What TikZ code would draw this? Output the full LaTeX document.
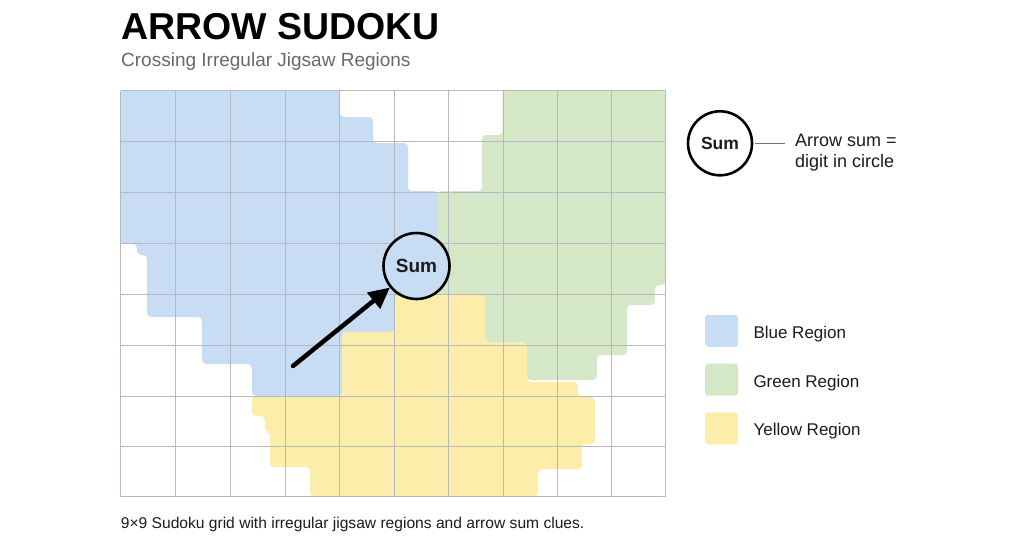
\documentclass[tikz,border=0pt]{standalone}
\usepackage{fontspec}
\setmainfont{Liberation Sans}
\usetikzlibrary{arrows.meta}
\definecolor{blueR}{RGB}{200,220,243}
\definecolor{greenR}{RGB}{212,232,199}
\definecolor{yellowR}{RGB}{252,238,170}
\definecolor{gridc}{RGB}{180,185,191}
\definecolor{subc}{RGB}{105,105,105}
\definecolor{txt}{RGB}{28,28,32}
\tikzset{
  region/.style={rounded corners=4pt},
  gridline/.style={draw=gridc,line width=1.1pt},
  sumcircle/.style={circle,draw=black,line width=2.6pt,minimum size=66pt,inner sep=0pt,
    font=\fontsize{19}{22}\selectfont\bfseries,text=txt},
  legsq/.style={minimum width=33pt,minimum height=32pt,rounded corners=3pt,inner sep=0pt},
  legtxt/.style={anchor=base west,inner sep=0pt,font=\fontsize{17}{20}\selectfont,text=txt},
  arrowline/.style={line width=4.5pt,line cap=round,-{Triangle[length=21pt,width=20pt]}},
}
\begin{document}
\begin{tikzpicture}[x=1pt,y=-1pt]
\useasboundingbox (0,0) rectangle (1024,551);
\fill[white] (0,0) rectangle (1024,551);
% regions
\fill[blueR,region] (120.5,90.5) -- (340,90.5) -- (340,117) -- (373,117) -- (373,143) -- (408,143) -- (408,191) -- (438,191) -- (438,295) -- (395,295) -- (395,332) -- (342,332) -- (342,396) -- (252,396) -- (252,364) -- (202,364) -- (202,317) -- (147,317) -- (147,255) -- (137,255) -- (137,244) -- (120.5,244) -- cycle;
\fill[greenR,region] (502.7,90.5) -- (665.5,90.5) -- (665.5,285) -- (655,285) -- (655,305) -- (627,305) -- (627,355) -- (597,355) -- (597,380) -- (527,380) -- (527,342) -- (485,342) -- (485,295) -- (438,295) -- (438,191) -- (482,191) -- (482,135) -- (502.7,135) -- cycle;
\fill[yellowR,region] (395,295) -- (485,295) -- (485,342) -- (527,342) -- (527,382) -- (578,382) -- (578,397) -- (595,397) -- (595,444) -- (582,444) -- (582,469) -- (538,469) -- (538,496.5) -- (310,496.5) -- (310,467) -- (270,467) -- (270,432) -- (265,432) -- (265,416) -- (252,416) -- (252,396) -- (342,396) -- (342,332) -- (395,332) -- cycle;
% grid
\foreach \gx in {120.5,175.5,230.5,285.5,339.5,394.5,448.5,503.5,557.5,611.5,665.5}
  \draw[gridline] (\gx,90.5) -- (\gx,496.5);
\foreach \gy in {90.5,141.5,192.5,243.5,294.5,345.5,396.5,446.5,496.5}
  \draw[gridline] (120.5,\gy) -- (665.5,\gy);
% arrow clue
\node[sumcircle,fill=blueR] (sumc) at (416.5,266) {Sum};
\coordinate (tail) at (293,366);
\draw[arrowline] (tail) -- (sumc);
% titles
\node[anchor=base west,inner sep=0pt,font=\fontsize{37.5}{40}\selectfont\bfseries,text=black] (title) at (121,40) {ARROW SUDOKU};
\node[anchor=base west,inner sep=0pt,font=\fontsize{19}{22}\selectfont,text=subc] (sub) at (121,66.7) {Crossing Irregular Jigsaw Regions};
\node[anchor=base west,inner sep=0pt,font=\fontsize{15.6}{18}\selectfont,text=txt] (cap) at (120.7,528) {9×9 Sudoku grid with irregular jigsaw regions and arrow sum clues.};
% legend
\node[sumcircle,minimum size=64pt,font=\fontsize{17.5}{20}\selectfont\bfseries] (legc) at (720,143.3) {Sum};
\node[anchor=west,align=left,inner xsep=10pt,inner ysep=0pt,font=\fontsize{18}{21.5}\selectfont,text=txt] (legtext) at (785,152.5) {Arrow sum =\\digit in circle};
\draw[draw=black!55,line width=1.2pt,shorten <=2pt] (legc.east) -- (legc.east -| legtext.west);
\node[legsq,fill=blueR] (sqb) at (721.7,330.8) {};
\node[legtxt] (lb) at (753.3,338.5) {Blue Region};
\node[legsq,fill=greenR] (sqg) at (721.7,379.7) {};
\node[legtxt] (lg) at (753.3,387) {Green Region};
\node[legsq,fill=yellowR] (sqy) at (721.7,428.3) {};
\node[legtxt] (ly) at (753.3,435.5) {Yellow Region};
\end{tikzpicture}
\end{document}
